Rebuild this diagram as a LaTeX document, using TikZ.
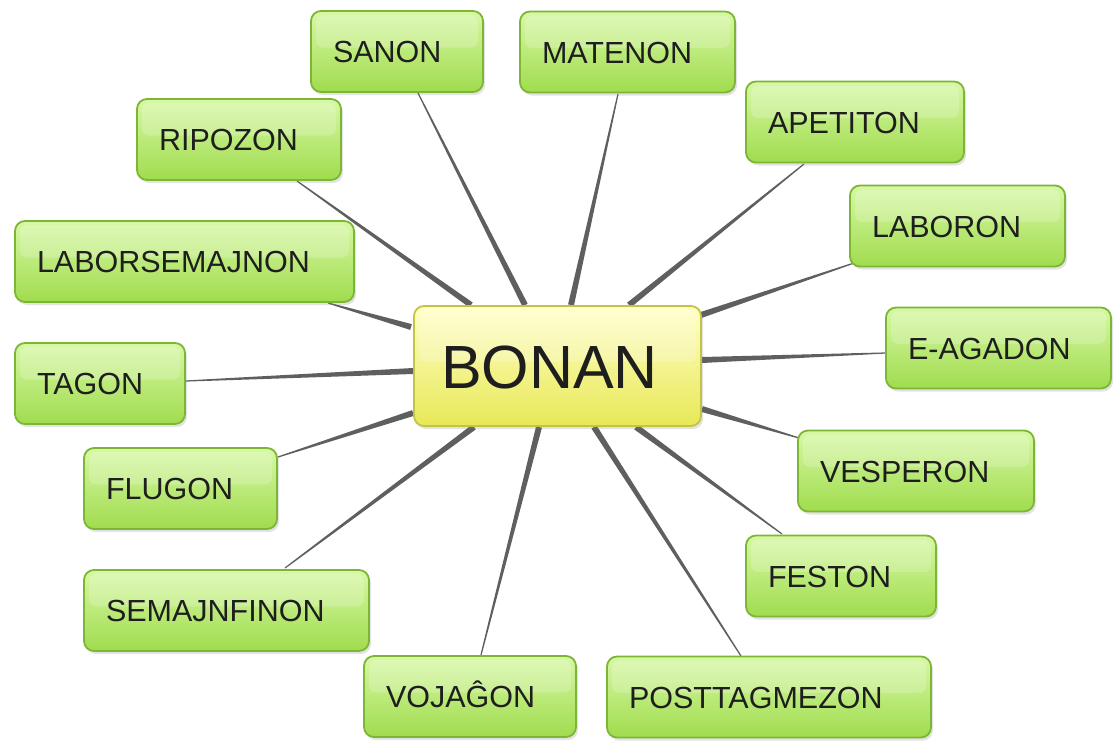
\documentclass[tikz,border=0pt]{standalone}
\usepackage{fontspec}
\setmainfont{Liberation Sans}
\usetikzlibrary{calc,shadows,backgrounds}
\definecolor{leaftop}{RGB}{215,248,165}
\definecolor{leafmid}{RGB}{182,238,98}
\definecolor{leafbot}{RGB}{160,220,78}
\definecolor{leafborder}{RGB}{125,182,52}
\definecolor{roottop}{RGB}{255,255,200}
\definecolor{rootmid}{RGB}{250,250,110}
\definecolor{rootbot}{RGB}{232,232,88}
\definecolor{rootborder}{RGB}{195,195,70}
\definecolor{spokegray}{RGB}{95,95,95}
\definecolor{textgray}{RGB}{30,30,30}
\tikzset{
  boxbase/.style={rounded corners=10pt, line width=1.8pt, inner xsep=0pt, inner ysep=0pt,
    align=left, text=textgray,
    drop shadow={shadow xshift=2pt, shadow yshift=-3pt, opacity=0.22},
    path picture={\fill[white,opacity=0.2,rounded corners=7pt]
      ([xshift=5pt,yshift=-4pt]path picture bounding box.north west) rectangle
      ([xshift=-5pt,yshift=4pt]path picture bounding box.east);}},
  leafbox/.style={boxbase, draw=leafborder, top color=leaftop, middle color=leafmid,
    bottom color=leafbot, minimum height=81pt, text height=22pt, text depth=0pt,
    font=\fontsize{30.5}{36}\selectfont},
  rootbox/.style={boxbase, draw=rootborder, top color=roottop, middle color=rootmid,
    bottom color=rootbot, minimum height=120pt, text height=44pt, text depth=0pt,
    font=\fontsize{61}{70}\selectfont},
  spokefill/.style={fill=spokegray}
}
\newcommand\leaf[4]{\node[leafbox,text width=#3pt] (#1) at (#2) {\hspace*{22pt}#4};}
\newcommand\spoke[4]{%
  \fill[spokefill] let \p1=($(#1)+(#2)$), \p2=($(#3)+(#4)$),
    \n1={atan2(\y2-\y1,\x2-\x1)} in
    ($(\p1)+(\n1+90:3pt)$) -- ($(\p1)+(\n1-90:3pt)$) --
    ($(\p2)+(\n1-90:0.6pt)$) -- ($(\p2)+(\n1+90:0.6pt)$) -- cycle;}
\begin{document}
\begin{tikzpicture}[x=1pt,y=-1pt]
\useasboundingbox (0,0) rectangle (1114,742);
\node[rootbox,text width=287pt] (bonan) at (557.5,366) {\hspace*{27pt}BONAN};
\leaf{sanon}{397,51.5}{172}{SANON}
\leaf{matenon}{627.5,52}{215}{MATENON}
\leaf{ripozon}{239,139.5}{204}{RIPOZON}
\leaf{apetiton}{855,122}{218}{APETITON}
\leaf{laborsemajnon}{184.5,261.5}{339}{LABORSEMAJNON}
\leaf{laboron}{957.5,226}{215}{LABORON}
\leaf{eagadon}{998.5,348}{225}{E-AGADON}
\leaf{tagon}{100,383.5}{170}{TAGON}
\leaf{vesperon}{916,471}{236}{VESPERON}
\leaf{flugon}{180.5,488.5}{193}{FLUGON}
\leaf{feston}{841,576}{190}{FESTON}
\leaf{semajnfinon}{226.5,610.5}{285}{SEMAJNFINON}
\leaf{vojagxon}{470,696.5}{212}{VOJAĜON}
\leaf{posttagmezon}{769,697}{324}{POSTTAGMEZON}
\begin{scope}[on background layer]
\spoke{bonan.center}{-32.5,-61}{sanon.center}{21,41.5}
\spoke{bonan.center}{13.5,-61}{matenon.center}{-9.5,42}
\spoke{bonan.center}{-86.5,-61}{ripozon.center}{58,41.5}
\spoke{bonan.center}{71.5,-61}{apetiton.center}{-51,42}
\spoke{bonan.center}{-146.5,-39}{laborsemajnon.center}{143.5,41.5}
\spoke{bonan.center}{143.5,-51}{laboron.center}{-103.5,37}
\spoke{bonan.center}{144.5,-6}{eagadon.center}{-113.5,5}
\spoke{bonan.center}{-144.5,5}{tagon.center}{86,-2.5}
\spoke{bonan.center}{144.5,43}{vesperon.center}{-117,-33}
\spoke{bonan.center}{-144.5,47}{flugon.center}{97.5,-31.5}
\spoke{bonan.center}{78.5,61}{feston.center}{-59,-42}
\spoke{bonan.center}{-83.5,61}{semajnfinon.center}{58.5,-42.5}
\spoke{bonan.center}{-18.5,61}{vojagxon.center}{11,-41.5}
\spoke{bonan.center}{36.5,61}{posttagmezon.center}{-28,-41}
\end{scope}
\end{tikzpicture}
\end{document}
